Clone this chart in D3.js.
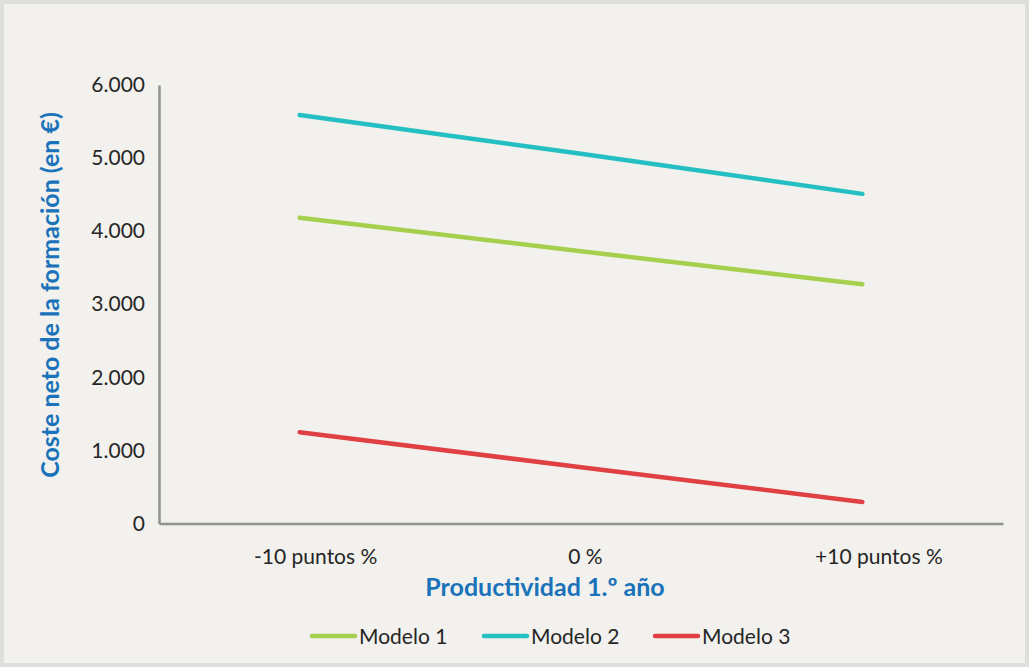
<!DOCTYPE html>
<html>
<head>
<meta charset="utf-8">
<script src="https://cdn.jsdelivr.net/npm/d3@7"></script>
<style>
  html, body { margin: 0; padding: 0; background: #ffffff; }
  svg { display: block; }
  text { font-family: Lato, "Open Sans", sans-serif; }
</style>
</head>
<body>
<svg id="chart" width="1029" height="667"></svg>
<script>
// Net training cost by first-year productivity scenario
const categories = ["-10 puntos %", "0 %", "+10 puntos %"];
const modelo1 = [4185, 3725, 3275];
const modelo2 = [5590, 5060, 4510];
const modelo3 = [1250, 770, 295];
const seriesNames = ["Modelo 1", "Modelo 2", "Modelo 3"];
const seriesColors = ["#a5cf4c", "#24bfc2", "#e04043"];
const yTicks = [0, 1000, 2000, 3000, 4000, 5000, 6000];

const series = [modelo1, modelo2, modelo3].map((values, i) => ({
  name: seriesNames[i], color: seriesColors[i], values
}));

const svg = d3.select("#chart");
const W = 1029, H = 667;

// Frame and panel background
svg.append("rect").attr("x", 0).attr("y", 0).attr("width", W).attr("height", H).attr("fill", "#dededb");
svg.append("rect").attr("x", 4).attr("y", 4).attr("width", W - 8).attr("height", H - 8).attr("fill", "#f2f1ed");

const margin = { left: 159, right: 1003, top: 85, bottom: 523.5 };

const x = d3.scaleBand().domain(categories).range([margin.left, margin.right]);
const y = d3.scaleLinear().domain([0, 6000]).range([margin.bottom, margin.top]);

const fmt = v => d3.format(",")(v).replace(/,/g, ".");

// Y axis
const yAxis = svg.append("g").attr("transform", `translate(${margin.left},0)`)
  .call(d3.axisLeft(y).tickValues(yTicks).tickSize(0).tickPadding(14).tickFormat(fmt));
yAxis.select(".domain").attr("stroke", "#919191").attr("stroke-width", 2.5);
yAxis.selectAll("text").attr("font-size", 21).attr("fill", "#262626");

// X axis (labels sit slightly right of the category centre)
const xAxis = svg.append("g").attr("transform", `translate(0,${margin.bottom})`)
  .call(d3.axisBottom(x).tickSize(0).tickPadding(26));
xAxis.select(".domain").attr("stroke", "#919191").attr("stroke-width", 2.5);
xAxis.selectAll("text").attr("font-size", 21).attr("fill", "#262626")
  .attr("text-anchor", "start")
  .each(function () {
    const w = this.getComputedTextLength();
    d3.select(this).attr("dx", -0.37 * w);
  });

// Axis titles
svg.append("text")
  .attr("transform", "translate(59,295) rotate(-90)")
  .attr("text-anchor", "middle")
  .attr("font-size", 25).attr("font-weight", 700).attr("fill", "#1a73ba")
  .text("Coste neto de la formación (en €)");

svg.append("text")
  .attr("x", 545).attr("y", 596)
  .attr("text-anchor", "middle")
  .attr("font-size", 25).attr("font-weight", 700).attr("fill", "#1a73ba")
  .text("Productividad 1.º año");

// Lines
const line = d3.line()
  .x((d, i) => x(categories[i]) + x.bandwidth() / 2)
  .y(d => y(d));

svg.append("g").selectAll("path").data(series).join("path")
  .attr("d", d => line(d.values))
  .attr("fill", "none")
  .attr("stroke", d => d.color)
  .attr("stroke-width", 4.5)
  .attr("stroke-linecap", "round");

// Legend
const legendX = [312, 484, 655];
const lg = svg.append("g").selectAll("g").data(series).join("g")
  .attr("transform", (d, i) => `translate(${legendX[i]},636)`);
lg.append("line").attr("x1", 0).attr("x2", 43).attr("y1", 0).attr("y2", 0)
  .attr("stroke", d => d.color).attr("stroke-width", 4.5).attr("stroke-linecap", "round");
lg.append("text").attr("x", 47).attr("y", 7.5)
  .attr("font-size", 21).attr("fill", "#262626")
  .text(d => d.name);
</script>
</body>
</html>
